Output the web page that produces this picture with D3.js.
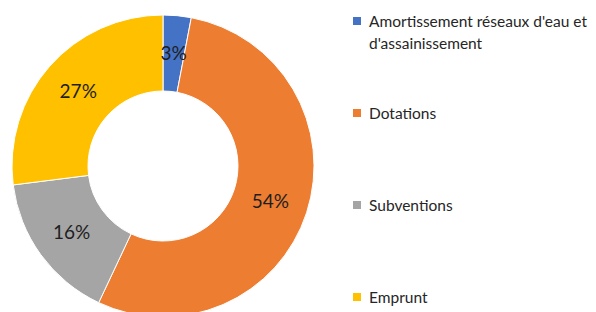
<!DOCTYPE html>
<html><head><meta charset="utf-8">
<script src="https://cdn.jsdelivr.net/npm/d3@7"></script>
<style>body{margin:0;background:#fff}svg{display:block}</style>
</head><body>
<svg id="c" width="596" height="312"></svg>
<script>
const categories = ["Amortissement réseaux d'eau et d'assainissement", "Dotations", "Subventions", "Emprunt"];
const values = [3, 54, 16, 27];
const legendLines = [["Amortissement réseaux d'eau et", "d'assainissement"], ["Dotations"], ["Subventions"], ["Emprunt"]];
const colors = ["#4472C4", "#ED7D31", "#A5A5A5", "#FFC000"];

const svg = d3.select("#c");
const cx = 163, cy = 166, rOut = 151, rIn = 75;
const pie = d3.pie().sort(null).value(d => d);
const arcs = pie(values);
const arc = d3.arc().innerRadius(rIn).outerRadius(rOut);
const labelArc = d3.arc().innerRadius(113).outerRadius(113);
const g = svg.append("g").attr("transform", `translate(${cx},${cy})`);
g.selectAll("path").data(arcs).join("path")
  .attr("d", arc).attr("fill", (d, i) => colors[i])
  .attr("stroke", "#fff").attr("stroke-width", 1);
g.selectAll("text").data(arcs).join("text")
  .attr("transform", d => `translate(${labelArc.centroid(d)})`)
  .attr("text-anchor", "middle").attr("dy", "0.36em")
  .attr("font-family", "Lato, sans-serif").attr("font-size", 19)
  .attr("fill", "#1e1e1e")
  .text(d => d.data + "%");

const legendY = [21, 113, 205, 297];
const lg = svg.append("g");
categories.forEach((c, i) => {
  lg.append("rect").attr("x", 353).attr("y", legendY[i] - 4).attr("width", 8).attr("height", 8).attr("fill", colors[i]);
  legendLines[i].forEach((ln, j) => {
    lg.append("text").attr("x", 369).attr("y", legendY[i] + j * 22).attr("dy", "0.36em")
      .attr("font-family", "Lato, sans-serif").attr("font-size", 15.5)
      .attr("fill", "#262626").text(ln);
  });
});
</script>
</body></html>
